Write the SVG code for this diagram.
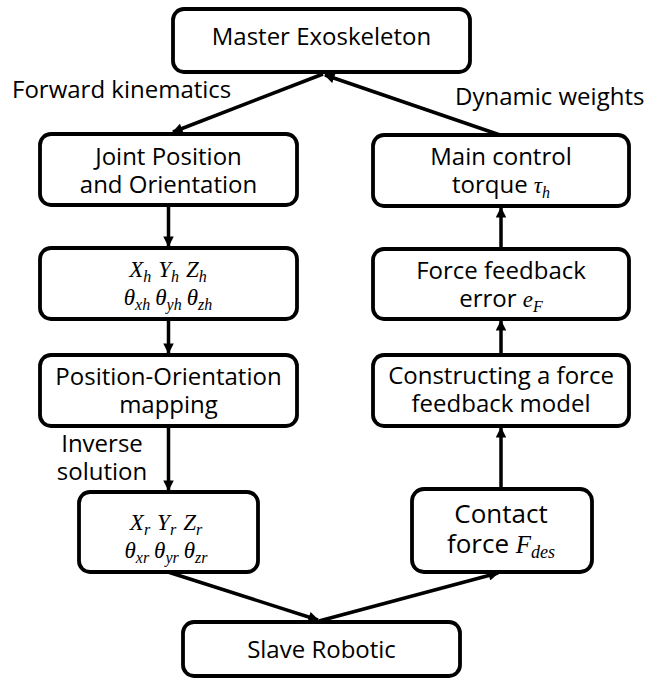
<svg xmlns="http://www.w3.org/2000/svg" width="647" height="678" viewBox="0 0 647 678">
<defs>
<style>
.box{fill:#fff;stroke:#000;stroke-width:3.8}
.t{font-family:"Open Sans","Noto Sans",sans-serif;font-size:24px;fill:#000;text-anchor:middle}
.l{font-family:"Open Sans","Noto Sans",sans-serif;font-size:24px;fill:#000}
.m{font-family:"Liberation Serif","DejaVu Serif",serif;font-style:italic;font-size:23px;fill:#000}
.s{font-size:16px}
.c{stroke:#000;stroke-width:3.5;fill:none}
</style>
<marker id="ah" viewBox="0 0 10 10" refX="9" refY="5" markerWidth="3.2" markerHeight="3" orient="auto" markerUnits="strokeWidth">
<path d="M0,0 L10,5 L0,10 z" fill="#000"/>
</marker>
</defs>
<rect width="647" height="678" fill="#fff"/>
<g id="connectors">
<line class="c" x1="323" y1="74" x2="173" y2="132" marker-end="url(#ah)"/>
<line class="c" x1="500" y1="135" x2="325" y2="75" marker-end="url(#ah)"/>
<line class="c" x1="168.5" y1="205" x2="168.5" y2="246" marker-end="url(#ah)"/>
<line class="c" x1="168.5" y1="319" x2="168.5" y2="353" marker-end="url(#ah)"/>
<line class="c" x1="168.5" y1="426" x2="168.5" y2="490" marker-end="url(#ah)"/>
<line class="c" x1="168" y1="572" x2="318" y2="620" marker-end="url(#ah)"/>
<line class="c" x1="319" y1="621" x2="498" y2="573" marker-end="url(#ah)"/>
<line class="c" x1="501" y1="489" x2="501" y2="428" marker-end="url(#ah)"/>
<line class="c" x1="501" y1="355" x2="501" y2="321" marker-end="url(#ah)"/>
<line class="c" x1="501" y1="249" x2="501" y2="208" marker-end="url(#ah)"/>
</g>
<g id="master"><rect class="box" x="173" y="9" width="297" height="63" rx="11"/><text class="t" x="321.5" y="45">Master Exoskeleton</text></g>
<g id="label-fk"><text class="l" x="12" y="98">Forward kinematics</text></g>
<g id="label-dw"><text class="l" x="455" y="105">Dynamic weights</text></g>
<g id="joint"><rect class="box" x="40" y="134" width="257" height="71" rx="11"/><text class="t" x="168.5" y="165">Joint Position<tspan x="168.5" dy="28">and Orientation</tspan></text></g>
<g id="xh"><rect class="box" x="40" y="248" width="257" height="71" rx="11"/>
<text class="m" x="168" y="277" text-anchor="middle">X<tspan class="s" dy="5">h</tspan><tspan dy="-5" dx="7">Y</tspan><tspan class="s" dy="5">h</tspan><tspan dy="-5" dx="7">Z</tspan><tspan class="s" dy="5">h</tspan><tspan x="168" dy="23">θ</tspan><tspan class="s" dy="5">xh</tspan><tspan dy="-5" dx="5">θ</tspan><tspan class="s" dy="5">yh</tspan><tspan dy="-5" dx="5">θ</tspan><tspan class="s" dy="5">zh</tspan></text></g>
<g id="pos"><rect class="box" x="40" y="355" width="257" height="71" rx="11"/><text class="t" x="168.5" y="385">Position-Orientation<tspan x="168.5" dy="28">mapping</tspan></text></g>
<g id="label-inv"><text class="t" x="102" y="452">Inverse<tspan x="102" dy="28">solution</tspan></text></g>
<g id="xr"><rect class="box" x="79" y="492" width="179" height="80" rx="11"/>
<text class="m" x="166" y="530" text-anchor="middle">X<tspan class="s" dy="5">r</tspan><tspan dy="-5" dx="7">Y</tspan><tspan class="s" dy="5">r</tspan><tspan dy="-5" dx="7">Z</tspan><tspan class="s" dy="5">r</tspan><tspan x="166" dy="23">θ</tspan><tspan class="s" dy="5">xr</tspan><tspan dy="-5" dx="5">θ</tspan><tspan class="s" dy="5">yr</tspan><tspan dy="-5" dx="5">θ</tspan><tspan class="s" dy="5">zr</tspan></text></g>
<g id="slave"><rect class="box" x="183" y="622" width="277" height="54" rx="11"/><text class="t" x="321.5" y="658">Slave Robotic</text></g>
<g id="main"><rect class="box" x="373" y="135" width="256" height="71" rx="11"/><text class="t" x="501" y="165">Main control<tspan x="501" dy="28">torque </tspan><tspan class="m">τ</tspan><tspan class="m s" dy="5">h</tspan></text></g>
<g id="ffe"><rect class="box" x="373" y="249" width="256" height="70" rx="11"/><text class="t" x="501" y="279">Force feedback<tspan x="501" dy="28">error </tspan><tspan class="m">e</tspan><tspan class="m s" dy="5">F</tspan></text></g>
<g id="cfm"><rect class="box" x="373" y="355" width="256" height="71" rx="11"/><text class="t" x="501" y="384">Constructing a force<tspan x="501" dy="28">feedback model</tspan></text></g>
<g id="contact"><rect class="box" x="412" y="489" width="180" height="83" rx="12"/><text class="t" x="501" y="523" style="font-size:26px">Contact<tspan x="501" dy="30">force </tspan><tspan class="m" style="font-size:25px">F</tspan><tspan class="m" style="font-size:18px" dy="5">des</tspan></text></g>
</svg>
